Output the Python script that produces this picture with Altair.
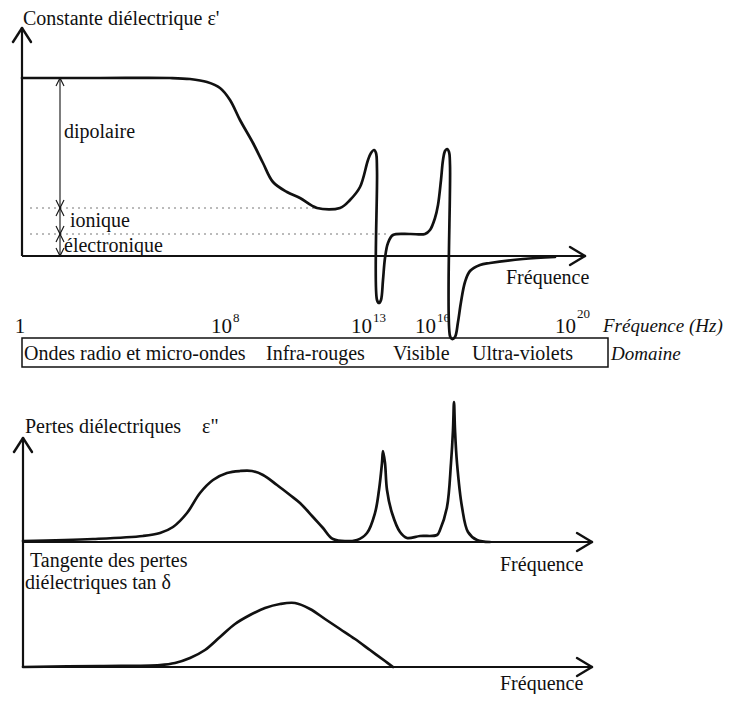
import altair as alt
import pandas as pd

# ---------------- values ----------------
# schematic frequency-axis position and height above each panel's zero line
eps_real_pos = [22, 100, 170, 190, 207, 220, 230, 240, 253, 263, 273, 287, 300, 317, 340, 350, 360,
                368, 371, 374, 376, 377, 377, 379, 381, 383, 385, 388, 393, 410, 425, 430, 435,
                438, 441, 443, 445, 447, 449, 450, 450, 452, 455, 458, 461, 465, 470, 480,
                490, 523, 555]
eps_real_val = [178, 178, 178, 177, 174, 168, 156, 136, 113, 93, 74, 64, 58, 48, 48, 56, 69,
                96, 103, 106, 103, 86, -44, -47, -44, -24, -2, 13, 21, 22, 22, 26, 38,
                51, 76, 96, 105, 107, 104, 91, -80, -83, -81, -66, -46, -26, -15, -9,
                -7, -3, -1]

loss_pos = [23, 93, 143, 160, 173, 187, 200, 213, 227, 240, 252, 263, 277, 290, 300,
            313, 323, 333, 357, 367, 375, 379, 382, 383, 385, 387, 392, 400, 407, 420,
            437, 440, 447, 451, 453, 454, 455, 457, 462, 468, 477, 490]
loss_val = [1, 3, 6, 9, 15, 29, 49, 62, 69, 71, 71, 67, 57, 47, 39,
            25, 14, 3, 2, 9, 29, 52, 79, 91, 79, 52, 29, 10, 4, 6,
            7, 12, 35, 79, 112, 140, 112, 79, 35, 10, 2, 0]

tan_pos = [23, 100, 160, 175, 190, 205, 220, 235, 250, 265, 280, 295, 310, 325, 340, 355, 370, 385, 393]
tan_val = [0, 1, 2, 4, 9, 17, 30, 43, 52, 59, 63, 64, 58, 48, 38, 28, 17, 6, 0]

# polarisation levels of the real part (height above zero line)
level_names = ["statique", "ionique + électronique", "électronique", "zéro"]
level_vals = [178, 48, 22, 0]

# frequency tick labels
tick_base = ["10", "10", "10", "10"]
tick_exp = ["8", "13", "16", "20"]
tick_pos = [232, 372, 436, 576]

# spectral domains
domain_names = ["Ondes radio et micro-ondes", "Infra-rouges", "Visible", "Ultra-violets"]
domain_start = [24, 266, 393, 472]

# ---------------- layout of the schematic ----------------
panel_names = ["reel", "pertes", "tangente"]
panel_zero = [256, 542, 667]
panel_top = [28, 438, None]
panel_end = [585, 592, 592]
axis_left = [22, 23, 23]

assert len(eps_real_pos) == len(eps_real_val)
assert len(loss_pos) == len(loss_val)
assert len(tan_pos) == len(tan_val)

X = alt.X("x:Q", scale=alt.Scale(domain=[8, 725], nice=False, zero=False), axis=None)
Y = alt.Y("y:Q", scale=alt.Scale(domain=[8, 694], nice=False, zero=False, reverse=True), axis=None)

# curves
rows = []
for name, zero, pos, val in zip(panel_names, panel_zero,
                                [eps_real_pos, loss_pos, tan_pos],
                                [eps_real_val, loss_val, tan_val]):
    for i, (p, v) in enumerate(zip(pos, val)):
        rows.append({"panel": name, "i": i, "x": p, "y": zero - v})
curve_df = pd.DataFrame(rows)

# axes
axis_rows = []
arrow_rows = []
for name, zero, top, end, left in zip(panel_names, panel_zero, panel_top, panel_end, axis_left):
    axis_rows.append({"x": left, "y": zero, "x2": end, "y2": zero})
    arrow_rows.append({"x": end - 15, "y": zero - 9, "x2": end, "y2": zero})
    arrow_rows.append({"x": end - 15, "y": zero + 9, "x2": end, "y2": zero})
    if top is not None:
        bottom = zero if name == "reel" else panel_zero[-1]
        axis_rows.append({"x": left, "y": top, "x2": left, "y2": bottom})
        arrow_rows.append({"x": left - 9, "y": top + 14, "x2": left, "y2": top})
        arrow_rows.append({"x": left + 9, "y": top + 14, "x2": left, "y2": top})
axis_df = pd.DataFrame(axis_rows)
arrow_df = pd.DataFrame(arrow_rows)

# dimension arrows for the polarisation contributions
dim_x = 60
z0 = panel_zero[0]
lv = [z0 - v for v in level_vals]
dim_rows = [{"x": dim_x, "y": lv[0], "x2": dim_x, "y2": lv[-1]}]
for a, b in zip(lv[:-1], lv[1:]):
    for s in (-4, 4):
        dim_rows.append({"x": dim_x + s, "y": a + 8, "x2": dim_x, "y2": a})
        dim_rows.append({"x": dim_x + s, "y": b - 8, "x2": dim_x, "y2": b})
dim_df = pd.DataFrame(dim_rows)

dotted_df = pd.DataFrame({"x": [30, 30], "x2": [320, 390], "y": [lv[1], lv[2]], "y2": [lv[1], lv[2]]})

box_df = pd.DataFrame({"x": [22], "x2": [608], "y": [338], "y2": [367]})

FONT = "'Liberation Serif', 'Times New Roman', serif"
INK = "#111111"

text_left = pd.DataFrame({
    "text": ["Constante diélectrique ε'", "dipolaire", "ionique", "électronique", "Fréquence",
             "Pertes diélectriques", "ε\"", "Fréquence",
             "Tangente des pertes", "diélectriques tan δ", "Fréquence"] + domain_names,
    "x": [23, 64, 70, 64, 506, 25, 202, 500, 30, 25, 500] + domain_start,
    "y": [25, 138, 227, 252, 284, 433, 433, 571, 567, 589, 690] + [360] * 4,
})
text_italic = pd.DataFrame({"text": ["Fréquence (Hz)", "Domaine"], "x": [603, 611], "y": [332, 360]})
tick_df = pd.DataFrame({"text": tick_base, "x": tick_pos, "y": [333] * 4})
one_df = pd.DataFrame({"text": ["1"], "x": [20], "y": [333]})
sup_df = pd.DataFrame({"text": tick_exp, "x": [p + 1 for p in tick_pos], "y": [322, 322, 322, 318]})

def rules(df, **kw):
    return alt.Chart(df).mark_rule(**kw).encode(x=X, y=Y, x2="x2:Q", y2="y2:Q")

layers = [
    rules(dotted_df, color="#777777", strokeWidth=1, strokeDash=[2, 4]),
    rules(dim_df, color=INK, strokeWidth=1.1),
    alt.Chart(box_df).mark_rect(fillOpacity=0, stroke=INK, strokeWidth=1.5).encode(
        x=X, y=Y, x2="x2:Q", y2="y2:Q"),
    rules(axis_df, color=INK, strokeWidth=2.2),
    rules(arrow_df, color=INK, strokeWidth=2.4, strokeCap="round"),
    alt.Chart(curve_df).mark_line(color=INK, strokeWidth=2.7, strokeJoin="round",
                                  strokeCap="round", interpolate="catmull-rom").encode(
        x=X, y=Y, detail="panel:N", order="i:Q"),
    alt.Chart(text_left).mark_text(align="left", baseline="alphabetic", font=FONT,
                                   fontSize=20, color=INK).encode(x=X, y=Y, text="text:N"),
    alt.Chart(text_italic).mark_text(align="left", baseline="alphabetic", font=FONT,
                                     fontSize=19, fontStyle="italic", color=INK).encode(
        x=X, y=Y, text="text:N"),
    alt.Chart(tick_df).mark_text(align="right", baseline="alphabetic", font=FONT,
                                 fontSize=21, color=INK).encode(x=X, y=Y, text="text:N"),
    alt.Chart(one_df).mark_text(align="center", baseline="alphabetic", font=FONT,
                                fontSize=21, color=INK).encode(x=X, y=Y, text="text:N"),
    alt.Chart(sup_df).mark_text(align="left", baseline="alphabetic", font=FONT,
                                fontSize=13, color=INK).encode(x=X, y=Y, text="text:N"),
]

chart = alt.layer(*layers).properties(
    width=717, height=686, padding=0,
    autosize=alt.AutoSizeParams(type="none"),
    background="white",
).configure_view(stroke=None)

chart.save("out.html", embed_options={"renderer": "svg", "actions": False})
